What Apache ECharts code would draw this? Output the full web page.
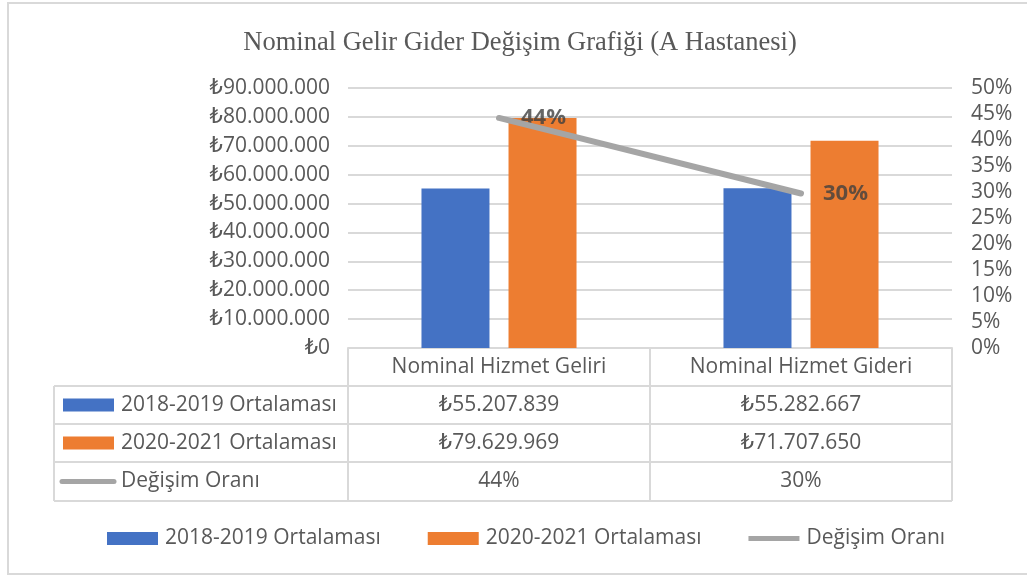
<!DOCTYPE html>
<html><head><meta charset="utf-8">
<script src="https://cdn.jsdelivr.net/npm/echarts@6/dist/echarts.min.js"></script>
<style>html,body{margin:0;padding:0;background:#fff}#c{width:1027px;height:576px}</style>
</head><body><div id="c"></div>
<script>
const titleText = 'Nominal Gelir Gider Değişim Grafiği (A Hastanesi)';
const categories = ['Nominal Hizmet Geliri', 'Nominal Hizmet Gideri'];
const seriesNames = ['2018-2019 Ortalaması', '2020-2021 Ortalaması', 'Değişim Oranı'];
const avg2018 = [55207839, 55282667];
const avg2020 = [79629969, 71707650];
const changeRate = [0.4424, 0.2971];
const leftAxisMax = 90000000, leftAxisStep = 10000000;
const rightAxisMax = 0.5, rightAxisStep = 0.05;

const COLORS = ['#4472c4', '#ed7d31', '#a5a5a5'];
const FONT = "'Open Sans', 'DejaVu Sans', sans-serif";
const TXT = '#595959', BORDER = '#d9d9d9';
const FS = 21;

function fmtTL(n) { return '₺' + String(Math.round(n)).replace(/\B(?=(\d{3})+(?!\d))/g, '.'); }
function fmtPct(v) { return Math.round(v * 100) + '%'; }

const chart = echarts.init(document.getElementById('c'), null, {renderer: 'canvas'});
const GL = 348, GR = 952, GT = 88, GB = 348;
const LINE_ICON = 'path://M0,0h0.01v0.01h-0.01z M0,7.5h100v10h-100z M0,25h0.01v0.01h-0.01z';

chart.setOption({
  animation: false,
  backgroundColor: '#fff',
  title: {text: titleText, left: 515, textAlign: 'center', top: 25,
    textStyle: {fontFamily: "'Liberation Serif', 'Times New Roman', serif", fontWeight: 'normal', fontSize: 26.5, color: TXT}},
  grid: {left: GL, right: 1027 - GR, top: GT, bottom: 576 - GB},
  legend: {
    left: 107, top: 528, padding: 0, itemWidth: 51, itemHeight: 13, itemGap: 47,
    data: [
      {name: seriesNames[0], icon: 'rect'},
      {name: seriesNames[1], icon: 'rect'},
      {name: seriesNames[2], icon: LINE_ICON}
    ],
    textStyle: {fontFamily: FONT, fontSize: FS, color: TXT, padding: [0, 0, 0, 2]}
  },
  xAxis: {type: 'category', data: categories,
    axisLine: {show: true, lineStyle: {color: BORDER, width: 2}},
    axisTick: {show: false},
    axisLabel: {show: true, margin: 19, verticalAlign: 'middle', fontFamily: FONT, fontSize: FS, color: TXT}},
  yAxis: [
    {type: 'value', min: 0, max: leftAxisMax, interval: leftAxisStep,
      axisLine: {show: false}, axisTick: {show: false},
      axisLabel: {formatter: fmtTL, margin: 18, fontFamily: FONT, fontSize: FS, color: TXT},
      splitLine: {lineStyle: {color: BORDER, width: 2}}},
    {type: 'value', min: 0, max: rightAxisMax, interval: rightAxisStep,
      axisLine: {show: false}, axisTick: {show: false},
      axisLabel: {formatter: fmtPct, margin: 19, fontFamily: FONT, fontSize: FS, color: TXT},
      splitLine: {show: false}}
  ],
  series: [
    {name: seriesNames[0], type: 'bar', data: avg2018, barWidth: 68, barGap: '28%', itemStyle: {color: COLORS[0]}},
    {name: seriesNames[1], type: 'bar', data: avg2020, barWidth: 68, itemStyle: {color: COLORS[1]}},
    {name: seriesNames[2], type: 'line', yAxisIndex: 1, data: changeRate, symbol: 'none',
      lineStyle: {color: COLORS[2], width: 6, cap: 'round'}, itemStyle: {color: COLORS[2]}},
    {name: 'labels', type: 'scatter', yAxisIndex: 1, data: changeRate, symbolSize: 0.01, silent: true,
      itemStyle: {color: 'transparent'},
      label: {show: true, position: 'right', distance: 22, formatter: p => fmtPct(p.value),
        fontFamily: FONT, fontWeight: 'bold', fontSize: 22, color: '#404040'}}
  ]
});

// data table below the plot
const cx = categories.map((c, i) => chart.convertToPixel({xAxisIndex: 0}, i));
const rowY = [386, 424, 462, 501];
const tableLeft = 54;
const colEdges = [GL, (cx[0] + cx[1]) / 2, GR];
const g = [];
g.push({type: 'rect', shape: {x: 8, y: 3, width: 1040, height: 571}, style: {fill: 'none', stroke: BORDER, lineWidth: 2}});
rowY.forEach(y => g.push({type: 'line', shape: {x1: tableLeft, y1: y, x2: GR, y2: y}, style: {stroke: BORDER, lineWidth: 2}}));
g.push({type: 'line', shape: {x1: tableLeft, y1: rowY[0], x2: tableLeft, y2: rowY[3]}, style: {stroke: BORDER, lineWidth: 2}});
colEdges.forEach(x => g.push({type: 'line', shape: {x1: x, y1: GB, x2: x, y2: rowY[3]}, style: {stroke: BORDER, lineWidth: 2}}));
const rows = [avg2018.map(fmtTL), avg2020.map(fmtTL), changeRate.map(fmtPct)];
rows.forEach((vals, r) => {
  const yc = (rowY[r] + rowY[r + 1]) / 2;
  vals.forEach((t, i) => g.push({type: 'text', x: cx[i], y: yc,
    style: {text: t, fill: TXT, font: FS + "px " + FONT, textAlign: 'center', textVerticalAlign: 'middle'}}));
  if (r < 2) {
    g.push({type: 'rect', shape: {x: 63, y: yc - 6.5, width: 51, height: 13}, style: {fill: COLORS[r]}});
  } else {
    g.push({type: 'line', shape: {x1: 62, y1: yc, x2: 114, y2: yc}, style: {stroke: COLORS[2], lineWidth: 5, lineCap: 'round'}});
  }
  g.push({type: 'text', x: 121, y: yc,
    style: {text: seriesNames[r], fill: TXT, font: FS + "px " + FONT, textAlign: 'left', textVerticalAlign: 'middle'}});
});
chart.setOption({graphic: g});
</script></body></html>
